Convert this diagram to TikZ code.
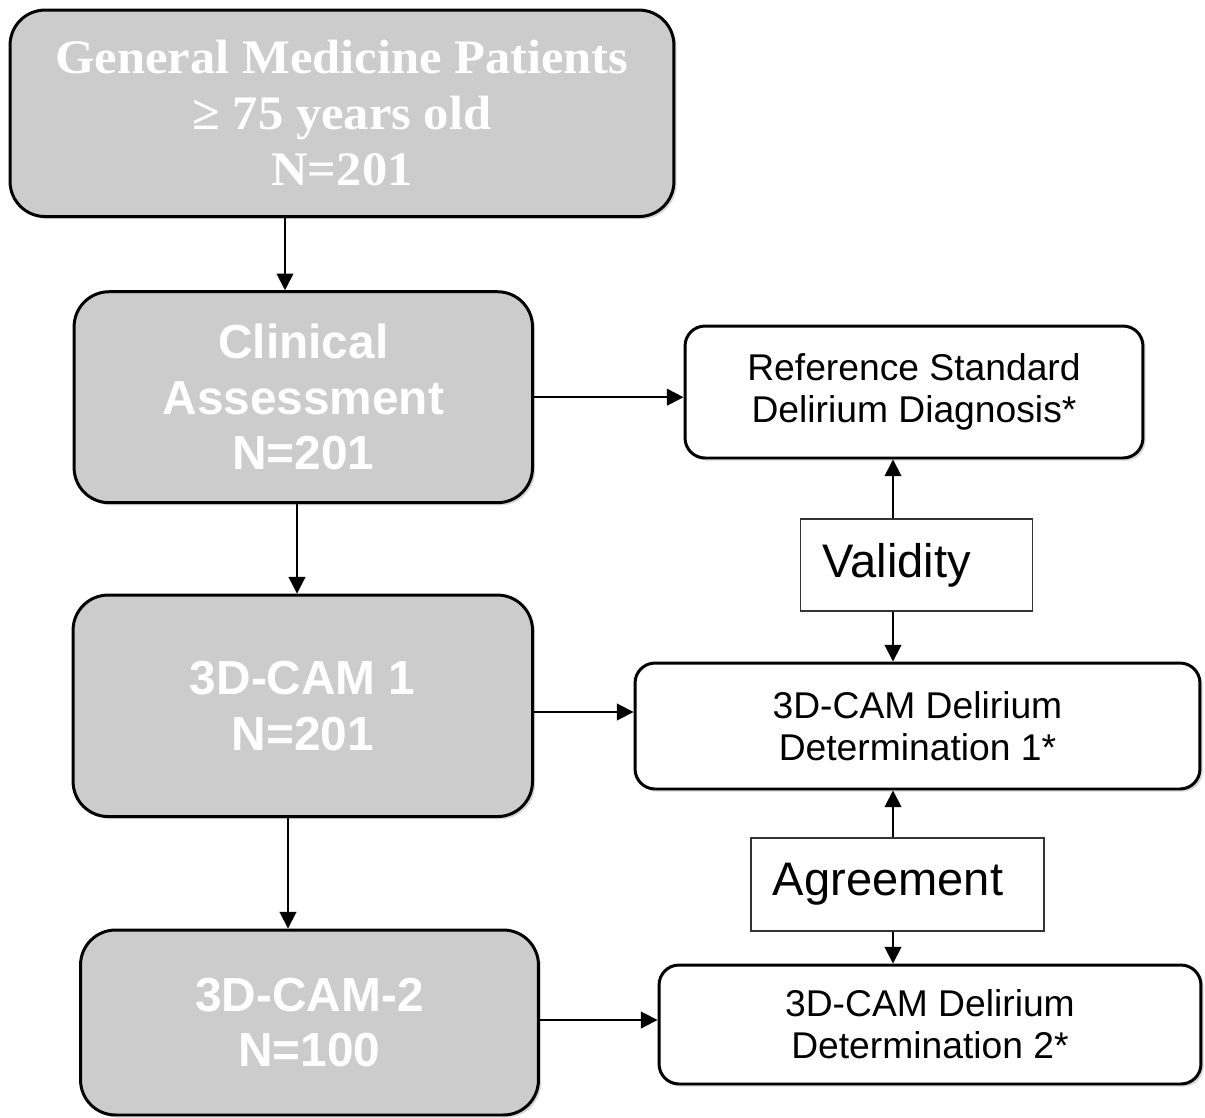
\documentclass[tikz,border=0pt]{standalone}
\usepackage{fontspec}
\setmainfont{Liberation Serif}
\setsansfont{Liberation Sans}
\newfontfamily\titlefont[FakeStretch=1.05]{Liberation Serif}
\usetikzlibrary{arrows.meta,shadows}
\definecolor{boxgray}{HTML}{CCCCCC}

\begin{document}
\begin{tikzpicture}[x=0.02cm, y=-0.02cm, font=\sffamily] % one unit is one pixel of the reference
\tikzstyle{shade} = [drop shadow={shadow xshift=1.5pt, shadow yshift=-1.5pt, fill=black!35, opacity=0.45}]
\tikzstyle{stage} = [rectangle, rounded corners=0.7cm, draw=black, line width=1.7pt, fill=boxgray, text=white, align=center, inner sep=0pt, shade, font=\sffamily\bfseries\fontsize{27.2pt}{31.6pt}\selectfont]
\tikzstyle{result} = [rectangle, rounded corners=0.4cm, draw=black, line width=1.7pt, fill=white, align=center, inner sep=0pt, shade, font=\sffamily\fontsize{21.2pt}{24pt}\selectfont]
\tikzstyle{measure} = [rectangle, draw=black!80, line width=0.85pt, fill=white, align=left, inner xsep=0.44cm, inner ysep=0pt, font=\sffamily\fontsize{26.8pt}{31.6pt}\selectfont]
\tikzstyle{arrow} = [-{Triangle[length=9.5pt, width=9.5pt]}, line width=1.1pt, draw=black]

\useasboundingbox (0,0) rectangle (1205,1117);

% Left column: study stages
\node[stage, minimum width=13.28cm, minimum height=4.13cm, font=\titlefont\bfseries\fontsize{27.4pt}{31.9pt}\selectfont] (Patients) at (342,113.3) {General Medicine Patients\\≥ 75 years old\\N=201};
\node[stage, minimum width=9.17cm, minimum height=4.22cm] (Clinical) at (303.3,397.2) {Clinical\\Assessment\\N=201};
\node[stage, minimum width=9.19cm, minimum height=4.43cm] (CamOne) at (302.8,705.8) {3D-CAM 1\\N=201};
\node[stage, minimum width=9.16cm, minimum height=3.7cm] (CamTwo) at (309.5,1022.5) {3D-CAM-2\\N=100};

% Right column: outcomes
\node[result, minimum width=9.16cm, minimum height=2.64cm] (Reference) at (914,392) {Reference Standard\\Delirium Diagnosis*};
\node[result, minimum width=11.3cm, minimum height=2.52cm] (DetOne) at (917.5,726) {3D-CAM Delirium\\Determination 1*};
\node[result, minimum width=10.84cm, minimum height=2.38cm] (DetTwo) at (930,1024.5) {3D-CAM Delirium\\Determination 2*};

% Comparison labels
\node[measure, text width=3.76cm, minimum height=1.84cm] (Validity) at (916.7,565) {Validity};
\node[measure, text width=4.98cm, minimum height=1.86cm] (Agreement) at (897.3,884.5) {Agreement};
\coordinate (axis) at (893,0);

% Draw arrows
\draw[arrow] (285,0 |- Patients.south) -- (285,0 |- Clinical.north);
\draw[arrow] (297,0 |- Clinical.south) -- (297,0 |- CamOne.north);
\draw[arrow] (288,0 |- CamOne.south) -- (288,0 |- CamTwo.north);

\draw[arrow] (Clinical.east) -- (Clinical.east -| Reference.west);
\draw[arrow] (CamOne.east |- 0,712) -- (DetOne.west |- 0,712);
\draw[arrow] (CamTwo.east |- 0,1020) -- (DetTwo.west |- 0,1020);

\draw[arrow] (axis |- Validity.north) -- (axis |- Reference.south);
\draw[arrow] (axis |- Validity.south) -- (axis |- DetOne.north);
\draw[arrow] (axis |- Agreement.north) -- (axis |- DetOne.south);
\draw[arrow] (axis |- Agreement.south) -- (axis |- DetTwo.north);

\end{tikzpicture}
\end{document}
